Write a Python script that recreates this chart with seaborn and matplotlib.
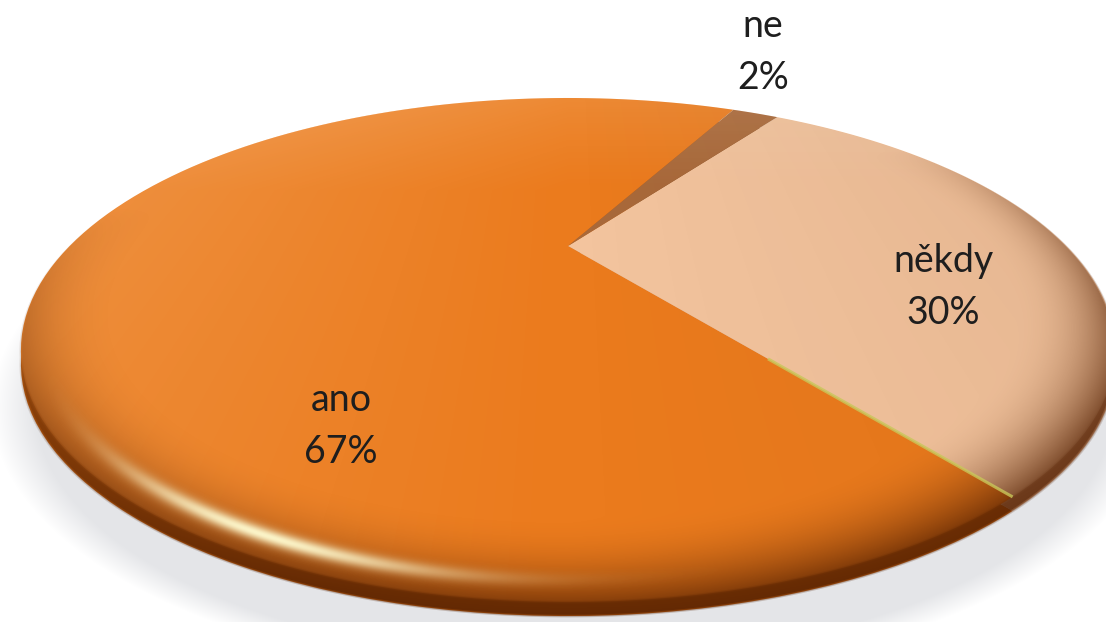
import numpy as np
import matplotlib
matplotlib.use("Agg")
import matplotlib.pyplot as plt
import seaborn as sns
from matplotlib.transforms import Transform, Affine2D
from matplotlib.path import Path

# ---- data -------------------------------------------------------------
categories = ["ano", "někdy", "ne"]
shares = [67, 30, 2]

# ---- style ------------------------------------------------------------
face_colors = ["#eb7b1d", "#f3c49e", "#a9693a"]
side_colors = ["#c86514", "#d2a07c", "#8a5428"]
label_pos = {"ano": (341, 426), "někdy": (943, 287), "ne": (763, 52)}

W, H = 1106, 622
CX, CY = 568.0, 246.0          # projected centre of the disc (pixels)
AX_, BY_, K_ = 498.3, 209.1, 0.4127   # perspective of the tilted disc
DEPTH = 14                     # thickness of the disc rim in pixels
START = 63.0


class DiscProjection(Transform):
    """Projects the unit-circle pie plane onto a tilted, perspective disc."""
    input_dims = output_dims = 2
    is_separable = False
    has_inverse = False

    def __init__(self, cx, cy, a, b, k):
        super().__init__()
        self.cx, self.cy, self.a, self.b, self.k = cx, cy, a, b, k

    def transform_non_affine(self, values):
        v = np.asarray(values, float).reshape(-1, 2)
        x, y = v[:, 0], v[:, 1]
        w = 1.0 + self.k * y
        return np.column_stack([self.cx + self.a * x / w, self.cy - self.b * y / w])

    def transform_path_non_affine(self, path):
        codes = path.codes
        if codes is None or not np.any(np.isin(codes, [Path.CURVE3, Path.CURVE4])):
            return Path(self.transform_non_affine(path.vertices), codes)
        polys = Affine2D().scale(1e3).transform_path(path).to_polygons(closed_only=True)
        parts = [Path(self.transform_non_affine(np.asarray(p) / 1e3), closed=True)
                 for p in polys]
        return Path.make_compound_path(*parts)


sns.set_theme(style="white")
plt.rcParams["font.family"] = ["Lato", "DejaVu Sans"]

fig = plt.figure(figsize=(W / 100, H / 100), dpi=100)
ax = fig.add_axes([0, 0, 1, 1])

proj = DiscProjection(CX, CY, AX_, BY_, K_)

# rim (drawn first, shifted down)
side_w, _ = ax.pie(shares, colors=sns.color_palette(side_colors), startangle=START,
                   counterclock=True, wedgeprops=dict(linewidth=0))
for wdg in side_w:
    wdg.set_transform(proj + Affine2D().translate(0, DEPTH) + ax.transData)
    wdg.set_zorder(1)

# top face
top_w, _ = ax.pie(shares, colors=sns.color_palette(face_colors), startangle=START,
                  counterclock=True, wedgeprops=dict(linewidth=0))
for wdg in top_w:
    wdg.set_transform(proj + ax.transData)
    wdg.set_zorder(2)

ax.set_aspect("auto")
ax.set_xlim(0, W)
ax.set_ylim(H, 0)
ax.axis("off")

# ---- shading -----------------------------------------------------------
uu, vv = np.meshgrid(np.arange(W) + 0.5, np.arange(H) + 0.5)


def disc_coords(u, v):
    s = (v - CY) / BY_
    w = 1.0 / (1.0 + K_ * s)
    px = (u - CX) * w / AX_
    py = -s * w
    return px, py


px, py = disc_coords(uu, vv)
r = np.hypot(px, py)
th = np.degrees(np.arctan2(py, px)) % 360
pxs, pys = disc_coords(uu, vv - DEPTH)
rs = np.hypot(pxs, pys)

face = np.clip((1.003 - r) / 0.006, 0, 1)
solid = np.clip((1.003 - np.minimum(r, rs)) / 0.006, 0, 1)   # face + rim wall
on_wall = np.clip((r - 0.997) / 0.006, 0, 1)


def layer(rgb, alpha, z):
    img = np.zeros((H, W, 4))
    img[..., :3] = rgb
    img[..., 3] = np.clip(alpha, 0, 1)
    ax.imshow(img, extent=(0, W, H, 0), zorder=z, interpolation="bilinear", aspect="auto")


# soft grey shadow under the disc
q = np.hypot((uu - 574) / 560, (vv - 408) / 262)
layer((0.895, 0.90, 0.91), np.clip((1.04 - q) / 0.08, 0, 1), 0)

# light from the upper left, darker to the right
light = 0.16 * np.clip(-px, 0, 1) + 0.12 * np.clip((py - 0.3) / 0.7, 0, 1)
layer((1, 0.97, 0.9), face * light, 3)

# rounded rim: the face darkens toward its edge and the wall continues it
rim_strength = np.clip(0.55 * (0.2 - py) + 0.25 * np.clip(px, 0, 1), 0, 0.65)
rim_face = np.clip((r - 0.84) / 0.16, 0, 1) ** 2.2 * rim_strength
wall_dark = rim_strength + 0.2 * np.clip(-pys, 0, 1) * np.clip((rs - 0.9) / 0.1, 0, 1)
dark = (1 - on_wall) * (0.08 * np.clip(px, 0, 1) + rim_face) + on_wall * wall_dark
layer((0.32, 0.12, 0.0), solid * dark, 3)

# glossy streak along the front rim
gloss = 0.95 * np.exp(-((r - 0.962) / 0.013) ** 2) * np.exp(-((th - 246) / 16) ** 2)
layer((1.0, 0.99, 0.82), face * gloss, 4)

# thin bevel line on the front edge of the "ano" slice
edge_ang = np.radians(START + shares[0] / sum(shares) * 360)
t = np.linspace(0.55, 1.0, 40)
ax.plot(t * np.cos(edge_ang), t * np.sin(edge_ang), color="#c9c75a", lw=2.2,
        alpha=0.8, transform=proj + ax.transData, zorder=4, solid_capstyle="butt")

# ---- labels ------------------------------------------------------------
for cat, val in zip(categories, shares):
    x, y = label_pos[cat]
    ax.text(x, y, f"{cat}\n{val}%", ha="center", va="center", fontsize=27,
            color="#1e1e1e", linespacing=1.55, zorder=6)

fig.savefig("out.png", dpi=100)
